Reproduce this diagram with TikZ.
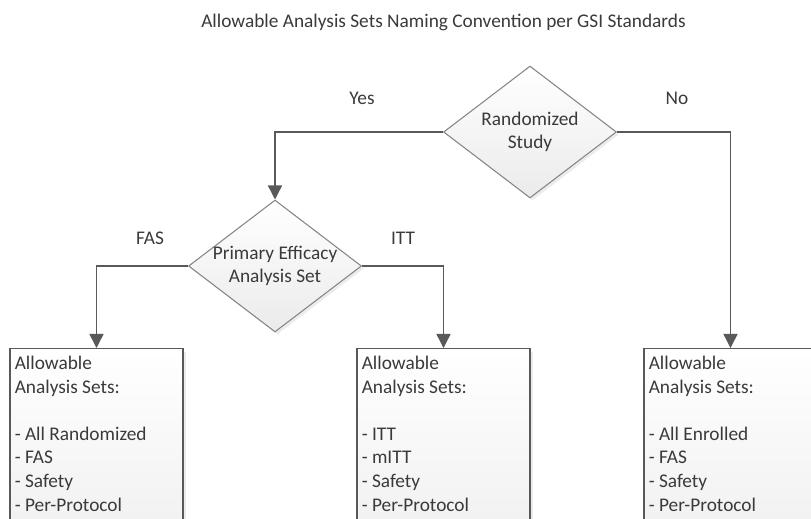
\documentclass[tikz,border=0pt]{standalone}
\usepackage{fontspec}
\setmainfont{Carlito}
\usetikzlibrary{positioning, shapes.geometric, arrows.meta, shadows}
\definecolor{linegray}{HTML}{595959}
\definecolor{edgegray}{HTML}{858585}
\definecolor{textgray}{HTML}{3A3A3A}
\tikzset{
	flowtext/.style={font=\fontsize{11}{13.4}\selectfont, text=textgray}
}
\tikzset{
	decision/.style={diamond, draw=edgegray, line width=0.6pt, top color=white,
	bottom color=gray!16, minimum width=3.46cm, minimum height=2.64cm, inner sep=0pt,
	drop shadow={shadow xshift=0.05cm, shadow yshift=-0.05cm, opacity=0.15}}
}
\tikzset{
	setbox/.style={rectangle, draw=linegray, line width=0.7pt, top color=white,
	bottom color=gray!12, minimum width=3.46cm, minimum height=4cm, anchor=north,
	drop shadow={shadow xshift=0.06cm, shadow yshift=-0.06cm, opacity=0.15}},
	settext/.style={flowtext, align=left, anchor=north west, inner sep=0pt},
	flowline/.style={draw=linegray, line width=0.8pt, -{Triangle[width=8pt,length=8pt]}}
}

\begin{document}
\begin{tikzpicture}[x=0.02cm, y=-0.02cm]
  \useasboundingbox (0,0) rectangle (811,518);
  \node[flowtext] (title) at (443.5,22) {Allowable Analysis Sets Naming Convention per GSI Standards};

  % decisions
  \node[decision, label={[flowtext, align=center]center:{Randomized\\Study}}] (random) at (530,132) {};
  \node[decision, label={[flowtext, align=center]center:{Primary Efficacy\\Analysis Set}}] (effset) at (275,266) {};

  % result boxes, cut off at the bottom
  \node[setbox] (fasbox) at (96.5,348) {};
  \node[setbox] (ittbox) at (443.5,348) {};
  \node[setbox] (enrbox) at (730.5,348) {};
  \node[settext] (fastext) at ([xshift=0.1cm, yshift=-0.16cm]fasbox.north west)
    {Allowable\\Analysis Sets:\\[13.4pt]- All Randomized\\- FAS\\- Safety\\- Per-Protocol};
  \node[settext] (itttext) at ([xshift=0.1cm, yshift=-0.16cm]ittbox.north west)
    {Allowable\\Analysis Sets:\\[13.4pt]- ITT\\- mITT\\- Safety\\- Per-Protocol};
  \node[settext] (enrtext) at ([xshift=0.1cm, yshift=-0.16cm]enrbox.north west)
    {Allowable\\Analysis Sets:\\[13.4pt]- All Enrolled\\- FAS\\- Safety\\- Per-Protocol};

  \draw[flowline] (random.west) -| (effset.north);
  \draw[flowline] (random.east) -| (enrbox.north);
  \draw[flowline] (effset.west) -| (fasbox.north);
  \draw[flowline] (effset.east) -| (ittbox.north);

  \node[flowtext] (yes) at (362,98) {Yes};
  \node[flowtext] (no) at (677,98) {No};
  \node[flowtext] (fas) at (150,238) {FAS};
  \node[flowtext] (itt) at (403,238) {ITT};
\end{tikzpicture}
\end{document}
